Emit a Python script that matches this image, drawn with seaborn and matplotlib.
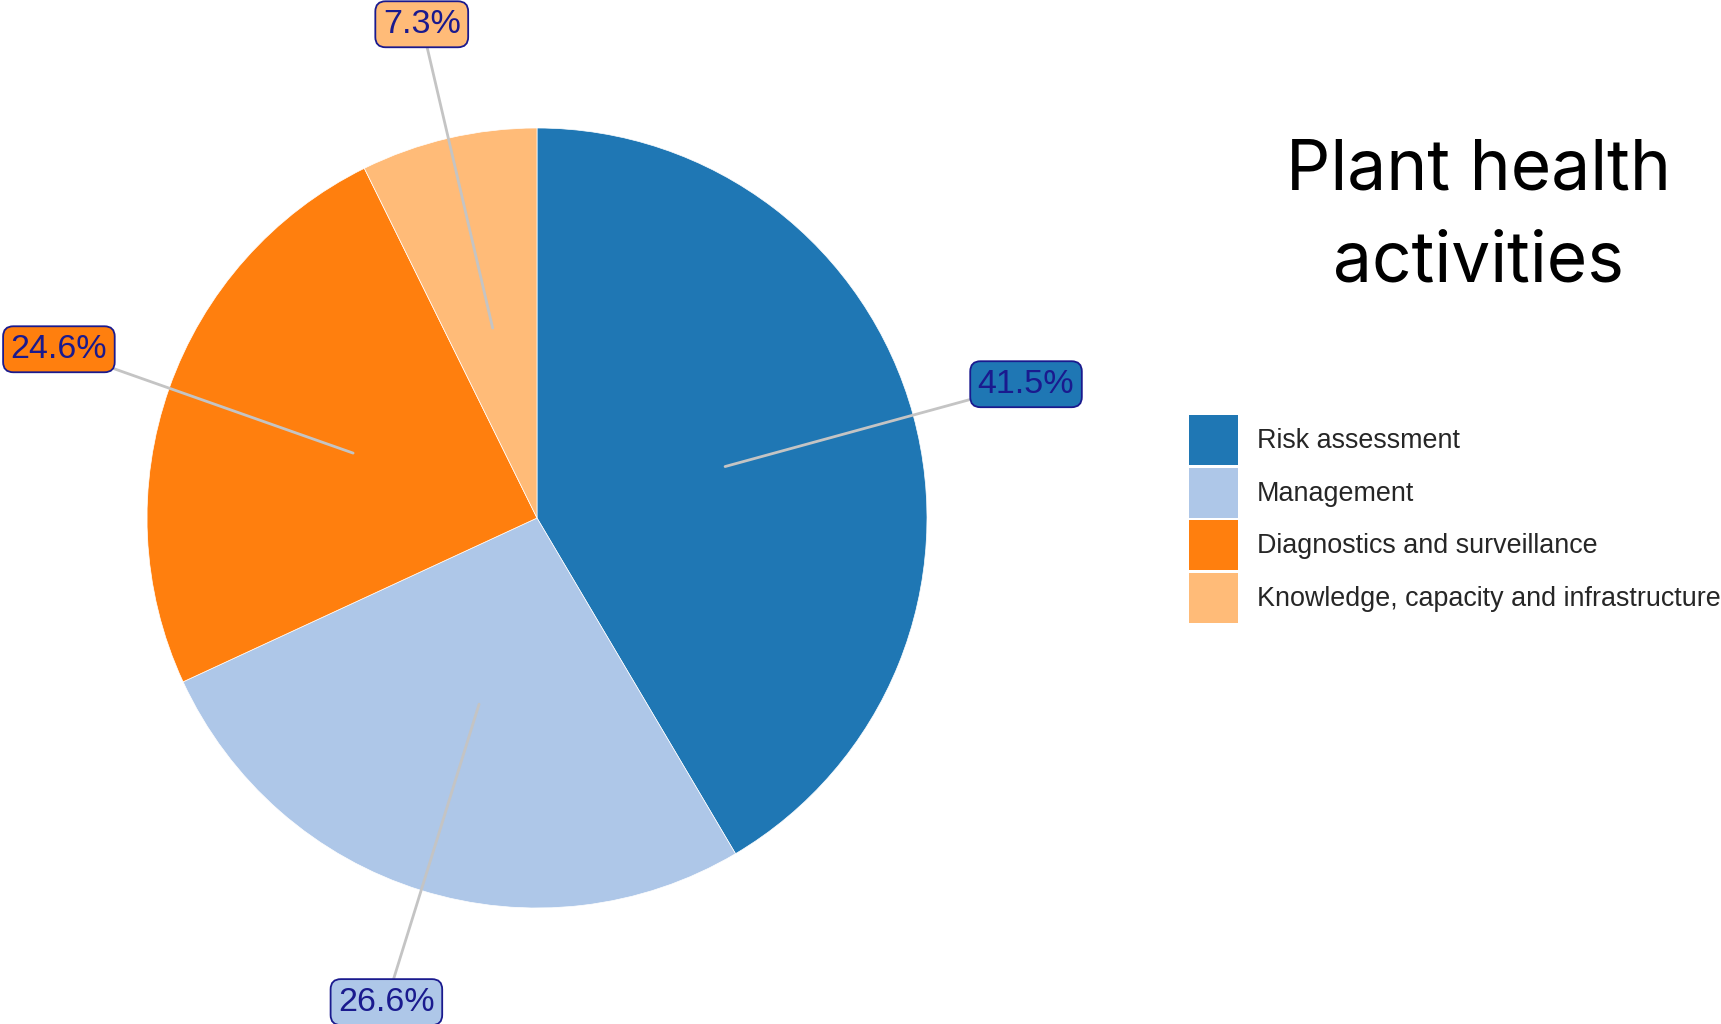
import numpy as np
import matplotlib
matplotlib.use("Agg")
import matplotlib.pyplot as plt
import seaborn as sns
from matplotlib.patches import Patch

# data
categories = ["Risk assessment", "Management", "Diagnostics and surveillance",
              "Knowledge, capacity and infrastructure"]
shares = [41.5, 26.6, 24.6, 7.3]
title = "Plant health\nactivities"

sns.set_theme(style="white")
plt.rcParams["font.family"] = ["Liberation Sans", "DejaVu Sans"]
colors = sns.color_palette("tab20", 4)

fig = plt.figure(figsize=(17.21, 10.24), dpi=100)

# pie axes: centre (537, 518) px, radius 390 px
W, H = 1721, 1024
cx, cy, R = 537, 518, 390
lim = 1.4
size = 2 * lim * R
ax = fig.add_axes([(cx - size / 2) / W, (H - cy - size / 2) / H, size / W, size / H])

wedges, _ = ax.pie(shares, colors=colors, startangle=90, counterclock=False,
                   radius=1, wedgeprops=dict(edgecolor="white", linewidth=0.5))
ax.set_xlim(-lim, lim)
ax.set_ylim(-lim, lim)
ax.axis("off")

# labels with leader lines
for w, val in zip(wedges, shares):
    ang = np.deg2rad((w.theta1 + w.theta2) / 2)
    x0, y0 = 0.5 * np.cos(ang), 0.5 * np.sin(ang)
    x1, y1 = 1.3 * np.cos(ang), 1.3 * np.sin(ang)
    ax.plot([x0, x1], [y0, y1], color="#c4c4c4", lw=2, zorder=3, clip_on=False)
    ax.text(x1, y1, f"{val}%", ha="center", va="center", fontsize=24.5,
            color="#1a1a8e", zorder=5,
            bbox=dict(boxstyle="round,pad=0.22,rounding_size=0.3",
                      facecolor=w.get_facecolor(), edgecolor="#1a1a8e", linewidth=1.3))

# title
fig.text(1478 / W, 1 - 217 / H, title, ha="center", va="center", fontsize=50,
         family=["Inter", "DejaVu Sans"], color="black", linespacing=1.52)

# legend
handles = [Patch(facecolor=c, edgecolor="none") for c in colors]
fig.legend(handles, categories, loc="upper left",
           bbox_to_anchor=(1189 / W, 1 - 415 / H), frameon=False,
           fontsize=19.4, handlelength=1.82, handleheight=2.5,
           handletextpad=0.7, labelspacing=0.08, borderpad=0, borderaxespad=0)

plt.savefig("out.png", dpi=100)
plt.close()
